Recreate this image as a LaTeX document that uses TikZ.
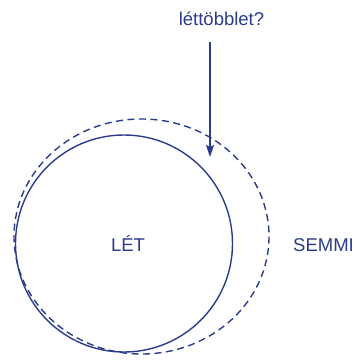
\documentclass[tikz,border=0pt]{standalone}
\usepackage{fontspec}
\setmainfont{Liberation Sans}
\usepackage{tikz}
\usetikzlibrary{arrows.meta, positioning}
\definecolor{letblue}{RGB}{44,60,140}

\begin{document}
\begin{tikzpicture}[
        x=1pt, y=-1pt,
        label text/.style={text=letblue, font=\fontsize{18.5}{20}\selectfont, inner sep=0pt, anchor=base},
        solid ring/.style={draw=letblue, line width=1.4pt},
        dashed ring/.style={draw=letblue, line width=1.4pt, dash pattern=on 7pt off 4.5pt},
        arrow/.style={-{Stealth[length=12pt, width=8pt, inset=2pt]}, draw=letblue, line width=1.6pt}
    ]
        \useasboundingbox (0,0) rectangle (363,359);
        \draw[dashed ring] (141.5,236.5) ellipse [x radius=127.5, y radius=117.5];
        \draw[solid ring] (124,243.5) circle (108.5);
        \node[label text] (let) at (128,251.5) {LÉT};
        \node[label text] (semmi) at (323.5,251.5) {SEMMI};
        \node[label text] (tobblet) at (221.5,25.5) {léttöbblet?};
        \coordinate (tip) at (210,157);
        \draw[arrow] (tobblet.south -| tip) ++(0,16) -- (tip);
    \end{tikzpicture}
\end{document}
